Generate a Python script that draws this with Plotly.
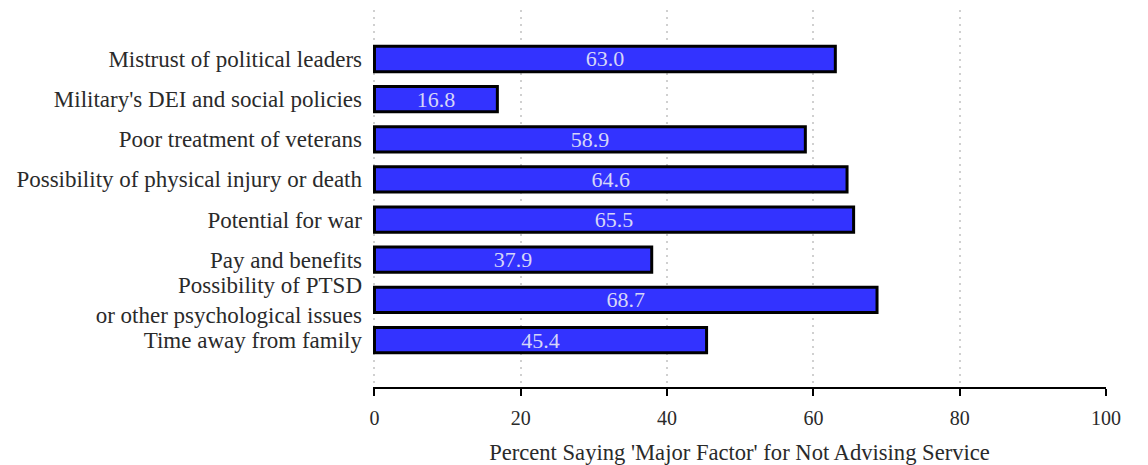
import plotly.graph_objects as go

categories = [
    "Mistrust of political leaders",
    "Military's DEI and social policies",
    "Poor treatment of veterans",
    "Possibility of physical injury or death",
    "Potential for war",
    "Pay and benefits",
    "Possibility of PTSD<br>or other psychological issues",
    "Time away from family",
]
values = [63.0, 16.8, 58.9, 64.6, 65.5, 37.9, 68.7, 45.4]
x_ticks = [0, 20, 40, 60, 80, 100]
x_title = "Percent Saying 'Major Factor' for Not Advising Service"

FONT = "Liberation Serif"
TXT = "#2a2a2a"
cats_bottom_up = categories[::-1]
vals_bottom_up = values[::-1]

fig = go.Figure(
    go.Bar(
        x=vals_bottom_up,
        y=cats_bottom_up,
        orientation="h",
        width=0.63,
        marker=dict(color="#3333ff", line=dict(color="black", width=3)),
        text=[f"{v:.1f}" for v in vals_bottom_up],
        textposition="inside",
        insidetextanchor="middle",
        constraintext="none",
        textangle=0,
        textfont=dict(family=FONT, size=22, color="#d6d6f8"),
        hoverinfo="skip",
    )
)

fig.update_layout(
    width=1148,
    height=465,
    margin=dict(l=365, r=50, t=2, b=86, autoexpand=False),
    plot_bgcolor="white",
    paper_bgcolor="white",
    showlegend=False,
    font=dict(family=FONT, size=23, color=TXT),
    uniformtext=dict(mode=False),
)

fig.update_xaxes(
    range=[-0.2, 100],
    tickvals=x_ticks,
    ticktext=[str(t) for t in x_ticks],
    showgrid=True,
    gridcolor="#d0d0d0",
    griddash="2px,5px",
    gridwidth=1.5,
    zeroline=False,
    showline=True,
    linecolor="black",
    linewidth=2,
    ticks="outside",
    ticklen=7,
    tickwidth=1.5,
    tickcolor="black",
    ticklabelstandoff=5,
    tickfont=dict(family=FONT, size=20, color=TXT),
    title=dict(text=x_title, font=dict(family=FONT, size=22.6, color=TXT), standoff=16),
    automargin=False,
)

fig.update_yaxes(
    type="category",
    categoryorder="array",
    categoryarray=cats_bottom_up,
    range=[-1.17, 8.22],
    showgrid=False,
    zeroline=False,
    showline=False,
    ticks="",
    ticklabelstandoff=10,
    tickfont=dict(family=FONT, size=23, color=TXT),
    automargin=False,
)

fig.write_html("out.html")
